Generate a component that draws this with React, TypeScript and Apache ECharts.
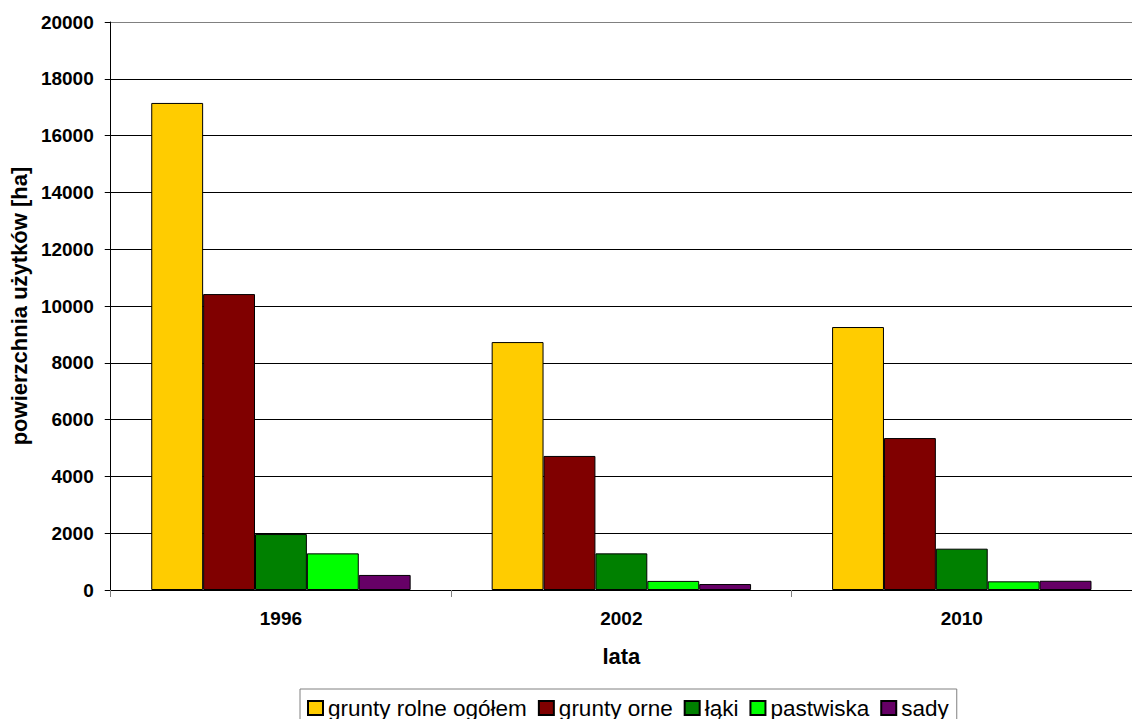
import React, { useEffect, useRef } from "react";
import * as echarts from "echarts";

const years = ["1996", "2002", "2010"];
const gruntyRolne = [17150, 8730, 9260];
const gruntyOrne = [10420, 4720, 5350];
const laki = [1970, 1290, 1455];
const pastwiska = [1290, 320, 305];
const sady = [530, 210, 325];

const seriesNames = ["grunty rolne ogółem", "grunty orne", "łąki", "pastwiska", "sady"];
const seriesColors = ["#FFCC00", "#800000", "#008000", "#00FF00", "#660066"];
const seriesData = [gruntyRolne, gruntyOrne, laki, pastwiska, sady];

export default function App() {
  const ref = useRef<HTMLDivElement>(null);
  useEffect(() => {
    const chart = echarts.init(ref.current!, null, { renderer: "svg" });
    const gridColors = ["#000", "#000", "#000", "#000", "#000", "#000", "#000", "#000", "#000", "#000", "#808080"];
    chart.setOption({
      animation: false,
      textStyle: { fontFamily: "Liberation Sans, Arial, sans-serif" },
      grid: { left: 110, top: 22, width: 1033, height: 568 },
      legend: {
        left: 300,
        top: 689,
        data: seriesNames,
        itemWidth: 15,
        itemHeight: 14,
        itemGap: 11,
        padding: [7, 8, 20, 7],
        borderColor: "#808080",
        borderWidth: 1,
        textStyle: { fontSize: 22.5, lineHeight: 24, color: "#000" },
        icon: "rect",
      },
      xAxis: {
        type: "category",
        data: years,
        name: "lata",
        nameLocation: "middle",
        nameGap: 55,
        nameTextStyle: { fontSize: 22, fontWeight: "bold", color: "#000" },
        axisLine: { lineStyle: { color: "#000" } },
        axisTick: { show: true, length: 7, lineStyle: { color: "#808080" } },
        axisLabel: { fontSize: 19, fontWeight: "bold", color: "#000", margin: 19 },
      },
      yAxis: {
        type: "value",
        min: 0,
        max: 20000,
        interval: 2000,
        name: "powierzchnia użytków [ha]",
        nameLocation: "middle",
        nameGap: 78,
        nameRotate: 90,
        nameTextStyle: { fontSize: 22, fontWeight: "bold", color: "#000" },
        axisLine: { show: true, lineStyle: { color: "#000" } },
        axisTick: { show: true, length: 6, lineStyle: { color: "#000" } },
        axisLabel: {
          fontSize: 19,
          fontWeight: "bold",
          color: "#000",
          margin: 17,
          formatter: (v: number) => String(v),
        },
        splitLine: { show: true, lineStyle: { color: gridColors, width: 1 } },
      },
      series: seriesNames.map((name, i) => ({
        name,
        type: "bar",
        data: seriesData[i],
        barGap: "0%",
        barCategoryGap: "23.8%",
        itemStyle: { color: seriesColors[i], borderColor: "#000", borderWidth: 1 },
      })),
    });
    return () => chart.dispose();
  }, []);
  return (
    <div
      ref={ref}
      style={{ position: "fixed", left: 0, top: 0, width: 1132, height: 719, background: "#fff" }}
    />
  );
}
